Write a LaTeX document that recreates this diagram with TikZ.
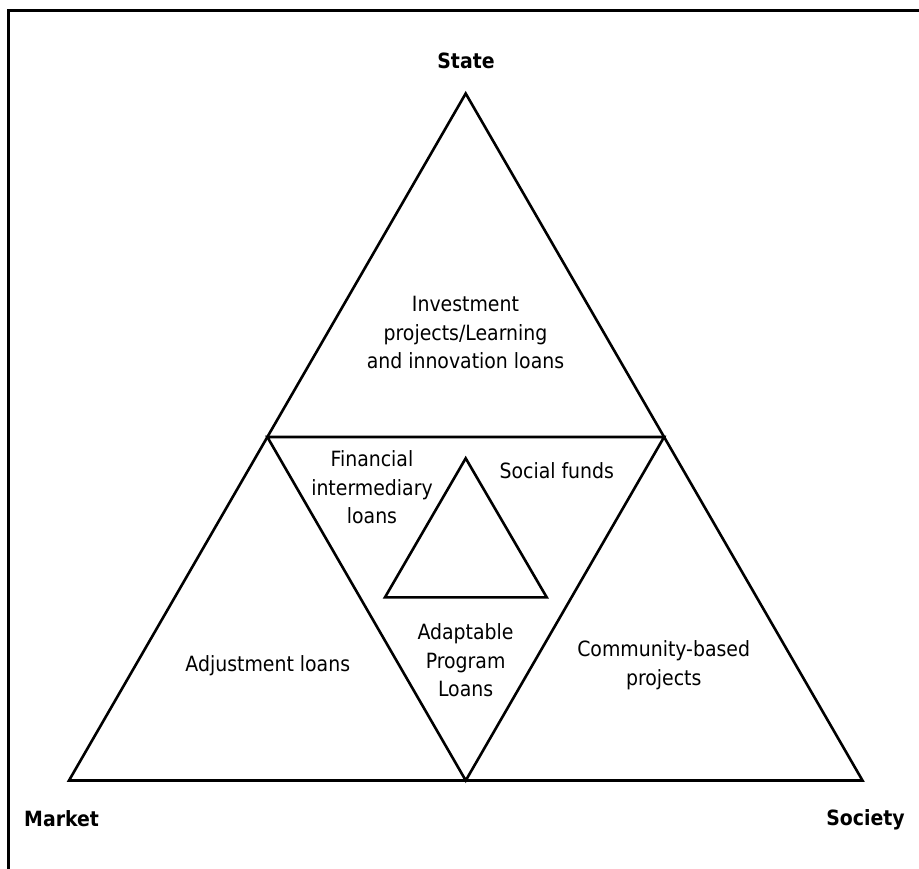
\documentclass[tikz,border=0pt]{standalone}
\usepackage{fontspec}
\usetikzlibrary{calc}
\setmainfont{DejaVu Sans Condensed}
\begin{document}
\begin{tikzpicture}[x=1pt,y=-1pt,
  edge/.style={line width=2.6pt,line join=miter},
  frameline/.style={line width=3pt},
  corner/.style={font=\fontsize{21}{25}\selectfont\bfseries,inner sep=0pt,anchor=base},
  % multi-line labels are anchored on the baseline of their last line
  label/.style={font=\fontsize{21}{28.5}\selectfont,align=center,inner sep=0pt,anchor=base}]
  \useasboundingbox (0,0) rectangle (919,869);
  % open frame: top and left rules
  \coordinate (fTL) at (8.7,10.5);
  \coordinate (fTR) at (919,10.5);
  \coordinate (fBL) at (8.7,869);
  \draw[frameline] (fTR) -- (fTL) -- (fBL);
  % outer triangle and its corners
  \coordinate (A) at (465.7,93.5);
  \coordinate (L) at (69,780.5);
  \coordinate (R) at (862.5,780.5);
  \coordinate (ML) at ($(A)!0.5!(L)$);
  \coordinate (MR) at ($(A)!0.5!(R)$);
  \coordinate (MB) at ($(L)!0.5!(R)$);
  \draw[edge] (A) -- (L) -- (R) -- cycle;
  \draw[edge] (ML) -- (MR) -- (MB) -- cycle;
  % small central triangle
  \coordinate (iA) at (465.7,458.3);
  \coordinate (iL) at (385,597.3);
  \coordinate (iR) at (546.7,597.3);
  \draw[edge] (iA) -- (iL) -- (iR) -- cycle;
  % corner labels
  \node[corner] (state) at (466,69) {State};
  \node[corner,anchor=base west] (market) at (24,826) {Market};
  \node[corner,anchor=base east] (society) at (905,825.7) {Society};
  % region labels
  \node[label] (invest) at (465.5,368.7) {Investment\\projects/Learning\\and innovation loans};
  \node[label] (fil) at (372,523.7) {Financial\\intermediary\\loans};
  \node[label] (social) at (556.8,478.3) {Social funds};
  \node[label] (adjust) at (267.8,671) {Adjustment loans};
  \node[label] (apl) at (465.6,696.7) {Adaptable\\Program\\Loans};
  \node[label] (community) at (663.7,685.2) {Community-based\\projects};
\end{tikzpicture}
\end{document}
